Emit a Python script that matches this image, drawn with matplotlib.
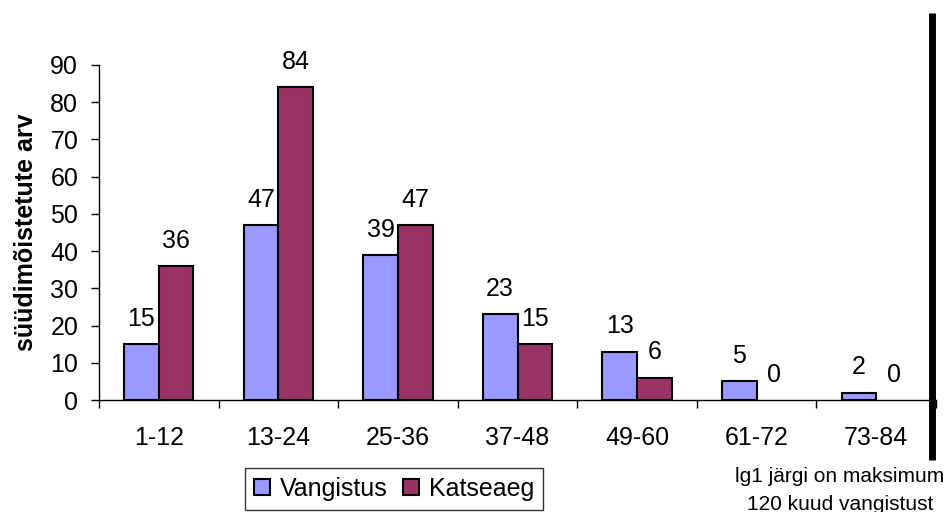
import matplotlib
matplotlib.use("Agg")
import matplotlib.pyplot as plt
import numpy as np
from matplotlib.lines import Line2D

categories = ["1-12", "13-24", "25-36", "37-48", "49-60", "61-72", "73-84"]
vangistus = [15, 47, 39, 23, 13, 5, 2]
katseaeg = [36, 84, 47, 15, 6, 0, 0]
yticks = [0, 10, 20, 30, 40, 50, 60, 70, 80, 90]

plt.rcParams['font.family'] = ['Liberation Sans', 'DejaVu Sans']
FS = 18

W, H = 950, 512
fig = plt.figure(figsize=(W/100, H/100), dpi=100)
ax = fig.add_axes([99/W, (H-400)/H, (936-99)/W, (400-65)/H])

x = np.arange(len(categories))
bw = 0.29
b1 = ax.bar(x - bw/2, vangistus, bw, color="#9999FF", edgecolor="black", linewidth=1.5, label="Vangistus")
b2 = ax.bar(x + bw/2, katseaeg, bw, color="#993366", edgecolor="black", linewidth=1.5, label="Katseaeg")
for bars, vals in ((b1, vangistus), (b2, katseaeg)):
    for r, v in zip(bars, vals):
        if v == 0:
            r.set_linewidth(0)
        ax.annotate(str(v), (r.get_x() + r.get_width()/2, v), xytext=(0, 9.5),
                    textcoords="offset points", ha="center", va="bottom", fontsize=FS,
                    annotation_clip=False)

ax.set_xlim(-0.5, len(categories) - 0.5)
ax.set_ylim(0, 90)
ax.set_yticks(yticks)
ax.tick_params(axis='y', labelsize=FS, length=6, width=1, direction='out', pad=9)
ax.set_xticks(np.arange(len(categories) + 1) - 0.5)
ax.set_xticklabels([])
ax.tick_params(axis='x', length=6, width=1, direction='out')
for i, c in enumerate(categories):
    ax.text(i, -10.3, c, ha="center", va="center", fontsize=FS)
for s in ("top", "right"):
    ax.spines[s].set_visible(False)
ax.spines["left"].set_linewidth(1)
ax.spines["bottom"].set_linewidth(1)
ax.set_ylabel("süüdimõistetute arv", fontsize=FS, fontweight="bold", labelpad=9)

leg = fig.legend(handles=[b1, b2], loc="center", bbox_to_anchor=(394/W, (H-489)/H),
                 ncol=2, fontsize=FS, frameon=True, fancybox=False, edgecolor="black",
                 handlelength=0.64, handleheight=0.64, handletextpad=0.4, columnspacing=0.6,
                 borderpad=0.35, borderaxespad=0)
leg.get_frame().set_linewidth(1)

fig.add_artist(Line2D([932/W, 932/W], [(H-13)/H, (H-460)/H], color="black", linewidth=5,
                      solid_capstyle="butt"))
fig.text(840/W, (H-476)/H, "lg1 järgi on maksimum", ha="center", va="center", fontsize=15)
fig.text(840/W, (H-504)/H, "120 kuud vangistust", ha="center", va="center", fontsize=15)

fig.savefig("out.png", dpi=100)
